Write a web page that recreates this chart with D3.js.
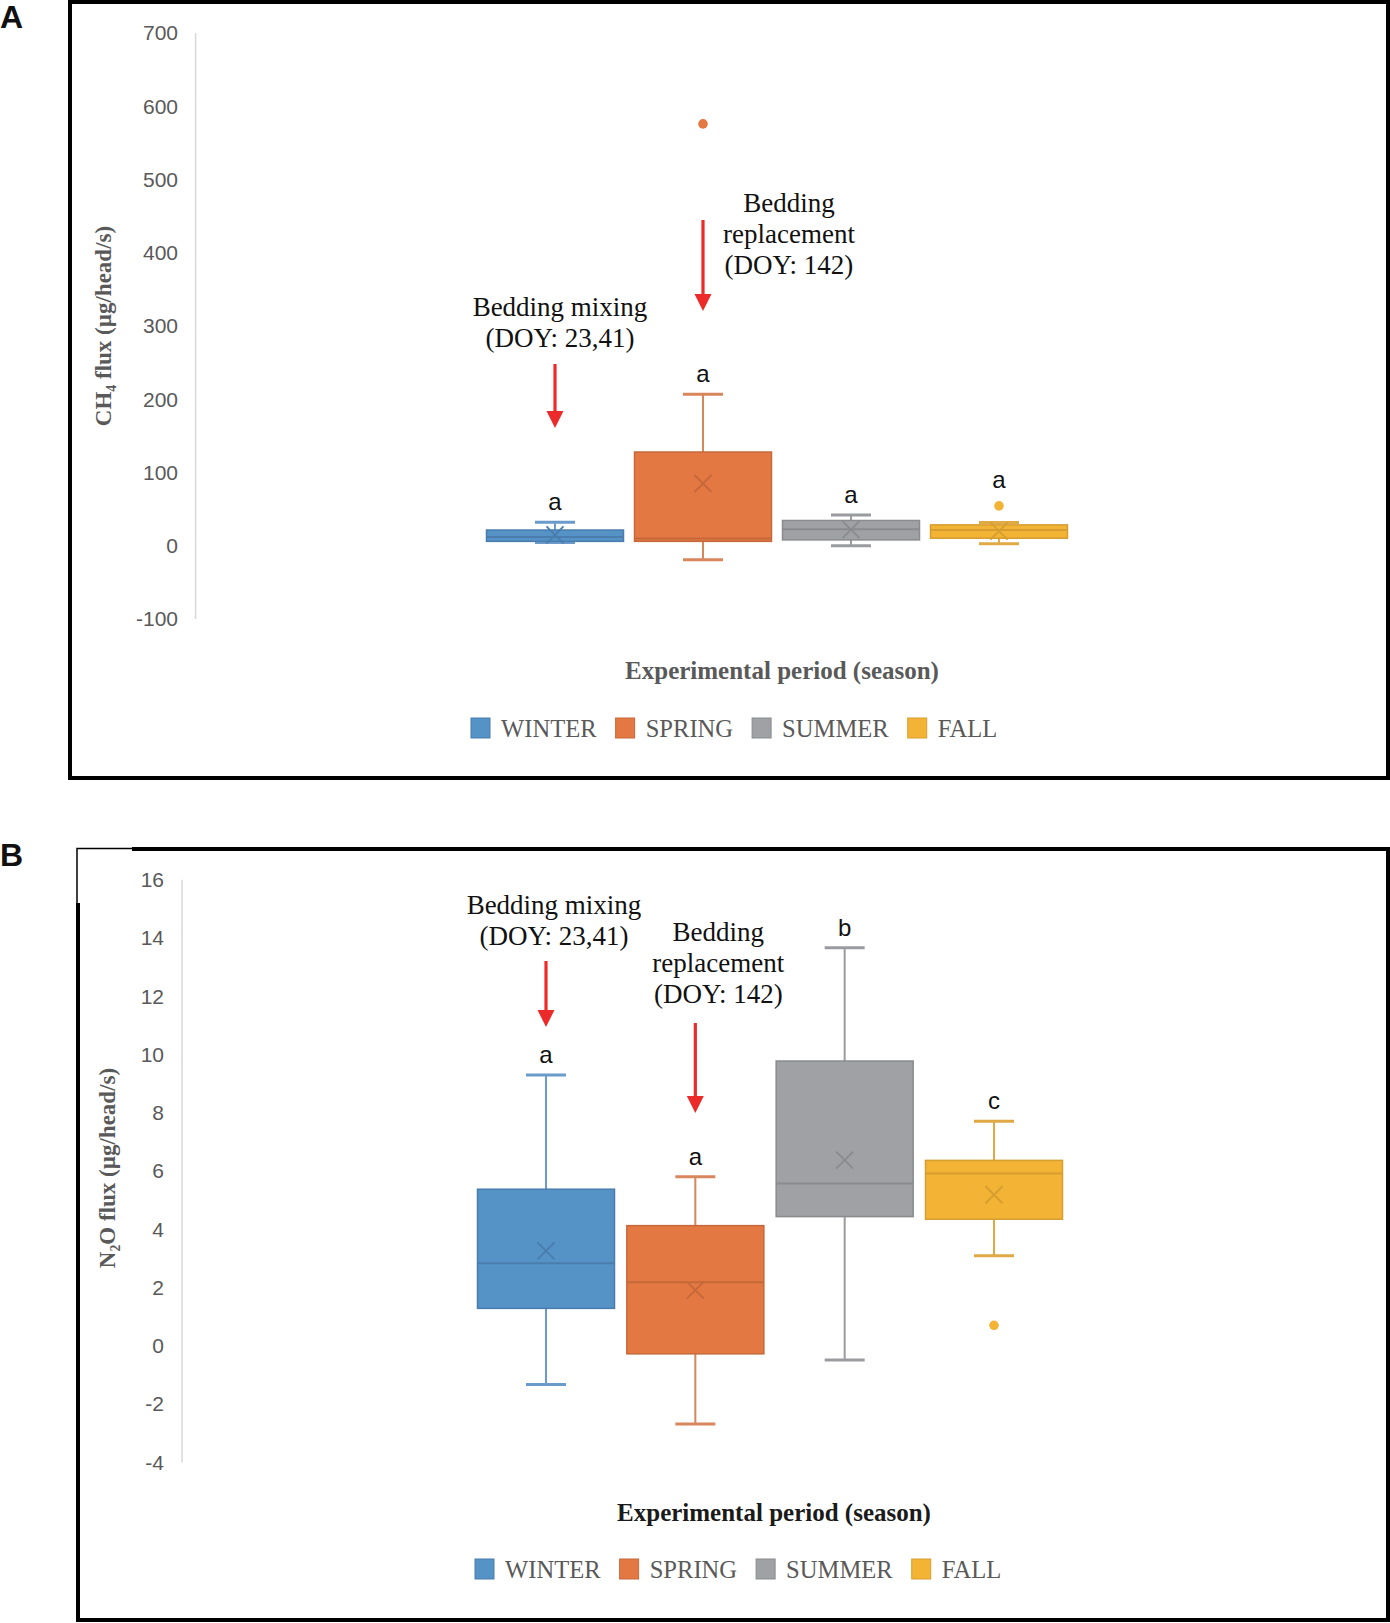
<!DOCTYPE html>
<html><head><meta charset="utf-8">
<script src="https://cdn.jsdelivr.net/npm/d3@7"></script>
<style>body{margin:0;background:#fff}svg{display:block}</style>
</head><body>
<svg id="c" width="1390" height="1623"></svg>
<script>
// ---------- DATA ----------
const seasons = ["WINTER", "SPRING", "SUMMER", "FALL"];
const seasonColors = ["#5592C6", "#E37842", "#A0A1A5", "#F3B335"];
const seasonStroke = ["#4A7DAE", "#C5683A", "#8A8B8E", "#D69E2E"];
const seasonWhisker = ["#6A9BCA", "#D8865C", "#9A9B9E", "#DFAA45"];

// Panel A: CH4 flux
const ch4Min    = [4.4, -19, 0, 2.6];
const ch4Q1     = [6, 6, 8, 10.3];
const ch4Median = [12, 10, 22.5, 21.5];
const ch4Q3     = [21.5, 128, 34.5, 28.5];
const ch4Max    = [32, 207, 42, 31.7];
const ch4Mean   = [15, 85, 22, 20];
const ch4Outliers = [[], [576], [], [54.5]];
const ch4Letters = ["a", "a", "a", "a"];
const ch4Ticks = [-100, 0, 100, 200, 300, 400, 500, 600, 700];

// Panel B: N2O flux
const n2oMin    = [-1.32, -2.68, -0.48, 3.10];
const n2oQ1     = [1.29, -0.27, 4.44, 4.35];
const n2oMedian = [2.84, 2.19, 5.58, 5.92];
const n2oQ3     = [5.38, 4.13, 9.78, 6.37];
const n2oMax    = [9.30, 5.81, 13.67, 7.71];
const n2oMean   = [3.26, 1.92, 6.38, 5.19];
const n2oOutliers = [[], [], [], [0.71]];
const n2oLetters = ["a", "a", "b", "c"];
const n2oTicks = [-4, -2, 0, 2, 4, 6, 8, 10, 12, 14, 16];

const annotMixing = ["Bedding mixing", "(DOY: 23,41)"];
const annotReplace = ["Bedding", "replacement", "(DOY: 142)"];
const xTitle = "Experimental period (season)";

// ---------- DRAW ----------
const svg = d3.select("#c");
const SERIF = "'Liberation Serif','Times New Roman',serif";
const SANS = "'Liberation Sans Narrow','Liberation Sans',Arial,sans-serif";
const RED = "#EC2A2A";

function arrow(g, x, y1, y2) {
  g.append("line").attr("x1", x).attr("x2", x).attr("y1", y1).attr("y2", y2 - 14)
    .attr("stroke", RED).attr("stroke-width", 3.2);
  g.append("path").attr("d", `M${x-8.5},${y2-17}L${x+8.5},${y2-17}L${x},${y2}Z`).attr("fill", RED);
}

function multiline(g, lines, cx, baseline, lh) {
  const t = g.append("text").attr("text-anchor", "middle")
    .attr("font-family", SERIF).attr("font-size", 27).attr("fill", "#111");
  lines.forEach((l, i) => t.append("tspan").attr("x", cx).attr("y", baseline + i * lh).text(l));
}

function drawPanel(cfg) {
  const g = svg.append("g");
  const y = d3.scaleLinear().domain(cfg.domain).range(cfg.yRange);
  const x = d3.scalePoint().domain(seasons).range(cfg.xRange);
  const bw = 137, cap = 40;

  // axis line
  g.append("line").attr("x1", cfg.axisX).attr("x2", cfg.axisX)
    .attr("y1", y(cfg.domain[1])).attr("y2", y(cfg.domain[0]))
    .attr("stroke", "#d9d9d9").attr("stroke-width", 1.5);

  // ticks with d3 axis
  const ax = g.append("g").attr("transform", `translate(${cfg.tickRight + 8},0)`)
    .call(d3.axisLeft(y).tickValues(cfg.ticks).tickSize(0).tickPadding(8).tickFormat(d => String(d)));
  ax.select(".domain").remove();
  ax.selectAll("text").attr("font-family", SANS).attr("font-size", 21).attr("fill", "#595959");

  // y title
  g.append("text").attr("transform", `translate(${cfg.yTitleX},${cfg.yTitleY}) rotate(-90)`)
    .attr("text-anchor", "middle").attr("font-family", SERIF).attr("font-weight", "bold")
    .attr("font-size", 23).attr("fill", "#595959").text(cfg.yTitle);

  seasons.forEach((s, i) => {
    const cx = x(s);
    const bg = g.append("g");
    // whiskers
    bg.append("line").attr("x1", cx).attr("x2", cx).attr("y1", y(cfg.max[i])).attr("y2", y(cfg.q3[i]))
      .attr("stroke", seasonWhisker[i]).attr("stroke-width", 2);
    bg.append("line").attr("x1", cx).attr("x2", cx).attr("y1", y(cfg.q1[i])).attr("y2", y(cfg.min[i]))
      .attr("stroke", seasonWhisker[i]).attr("stroke-width", 2);
    [cfg.max[i], cfg.min[i]].forEach(v => bg.append("line")
      .attr("x1", cx - cap / 2).attr("x2", cx + cap / 2).attr("y1", y(v)).attr("y2", y(v))
      .attr("stroke", seasonWhisker[i]).attr("stroke-width", 3));
    // box
    bg.append("rect").attr("x", cx - bw / 2).attr("width", bw)
      .attr("y", y(cfg.q3[i])).attr("height", Math.max(1, y(cfg.q1[i]) - y(cfg.q3[i])))
      .attr("fill", seasonColors[i]).attr("stroke", seasonStroke[i]).attr("stroke-width", 1.5);
    // median
    bg.append("line").attr("x1", cx - bw / 2).attr("x2", cx + bw / 2)
      .attr("y1", y(cfg.median[i])).attr("y2", y(cfg.median[i]))
      .attr("stroke", seasonStroke[i]).attr("stroke-width", 2);
    // mean X
    const my = y(cfg.mean[i]), m = 8.5;
    bg.append("path").attr("d", `M${cx-m},${my-m}L${cx+m},${my+m}M${cx-m},${my+m}L${cx+m},${my-m}`)
      .attr("stroke", seasonStroke[i]).attr("stroke-width", 1.8).attr("fill", "none");
    // outliers
    cfg.outliers[i].forEach(v => bg.append("circle").attr("cx", cx).attr("cy", y(v)).attr("r", 4.8)
      .attr("fill", seasonColors[i]));
    // significance letter
    let top = y(cfg.max[i]) - 12;
    cfg.outliers[i].forEach(v => { if (y(v) < y(cfg.max[i]) && y(cfg.max[i]) - y(v) < 40) top = y(v) - 18; });
    g.append("text").attr("x", cx).attr("y", top).attr("text-anchor", "middle")
      .attr("font-family", SANS).attr("font-size", 24).attr("fill", "#111").text(cfg.letters[i]);
  });

  // annotations
  multiline(g, annotMixing, x("WINTER") + cfg.mixDx, cfg.mixY, 31);
  arrow(g, x("WINTER"), cfg.mixArrow[0], cfg.mixArrow[1]);
  multiline(g, annotReplace, x("SPRING") + cfg.repDx, cfg.repY, 31);
  arrow(g, x("SPRING"), cfg.repArrow[0], cfg.repArrow[1]);

  // x title
  g.append("text").attr("x", cfg.xTitleX).attr("y", cfg.xTitleY).attr("text-anchor", "middle")
    .attr("font-family", SERIF).attr("font-weight", "bold").attr("font-size", 25)
    .attr("fill", cfg.xTitleColor).text(xTitle);

  // legend
  let lx = cfg.legendX;
  seasons.forEach((s, i) => {
    g.append("rect").attr("x", lx).attr("y", cfg.legendY - 10).attr("width", 19).attr("height", 20)
      .attr("fill", seasonColors[i]).attr("stroke", seasonStroke[i]).attr("stroke-width", 1);
    const t = g.append("text").attr("x", lx + 30).attr("y", cfg.legendY + 8.5)
      .attr("font-family", SERIF).attr("font-size", 24.6).attr("fill", "#595959").text(s);
    lx += 30 + t.node().getComputedTextLength() + 19;
  });
}

// Panel frames
svg.append("rect").attr("x", 70).attr("y", 2).attr("width", 1318).attr("height", 776)
  .attr("fill", "none").attr("stroke", "#000").attr("stroke-width", 4);
// panel B frame (with thin top-left corner pieces)
const fb = svg.append("g").attr("stroke", "#000").attr("fill", "none");
fb.append("path").attr("d", "M132,849H1388V1620H78V903").attr("stroke-width", 4);
fb.append("path").attr("d", "M77,903V848.5H132").attr("stroke-width", 1.5);

svg.append("text").attr("x", 0).attr("y", 28).attr("font-family", SANS).attr("font-weight", "bold")
  .attr("font-size", 32).attr("fill", "#111").text("A");
svg.append("text").attr("x", 0).attr("y", 866).attr("font-family", SANS).attr("font-weight", "bold")
  .attr("font-size", 32).attr("fill", "#111").text("B");

drawPanel({
  domain: [-100, 700], yRange: [619, 33.1], ticks: ch4Ticks,
  xRange: [555, 999], axisX: 195.6, tickRight: 178,
  yTitle: "CH\u2084 flux (\u00b5g/head/s)", yTitleX: 111, yTitleY: 326,
  min: ch4Min, q1: ch4Q1, median: ch4Median, q3: ch4Q3, max: ch4Max, mean: ch4Mean,
  outliers: ch4Outliers, letters: ch4Letters,
  mixDx: 5, mixY: 316, mixArrow: [364, 428],
  repDx: 86, repY: 212, repArrow: [220, 311],
  xTitleX: 782, xTitleY: 679, xTitleColor: "#595959",
  legendX: 471, legendY: 728
});

drawPanel({
  domain: [-4, 16], yRange: [1462.5, 879.8], ticks: n2oTicks,
  xRange: [546, 994], axisX: 182, tickRight: 164,
  yTitle: "N\u2082O flux (\u00b5g/head/s)", yTitleX: 115, yTitleY: 1168,
  min: n2oMin, q1: n2oQ1, median: n2oMedian, q3: n2oQ3, max: n2oMax, mean: n2oMean,
  outliers: n2oOutliers, letters: n2oLetters,
  mixDx: 8, mixY: 914, mixArrow: [961, 1027],
  repDx: 23, repY: 941, repArrow: [1023, 1113],
  xTitleX: 774, xTitleY: 1521, xTitleColor: "#1a1a1a",
  legendX: 475, legendY: 1569
});
</script>
</body></html>
